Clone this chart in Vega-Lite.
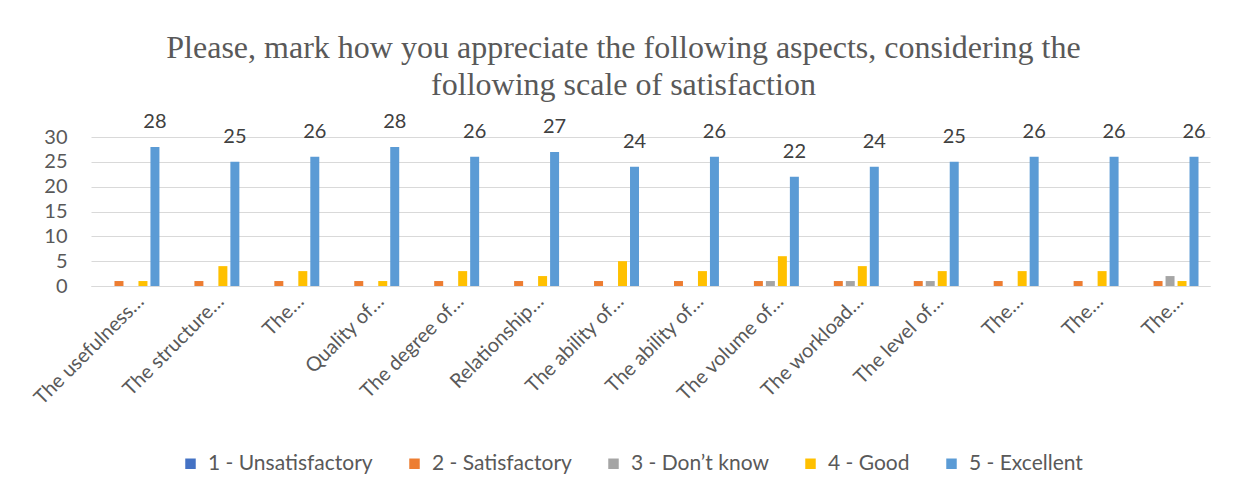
{
  "$schema": "https://vega.github.io/schema/vega-lite/v6.json",
  "width": 1119,
  "height": 149,
  "padding": {"left": 30, "top": 31, "right": 24, "bottom": 20},
  "background": "white",
  "title": {
    "text": ["Please, mark how you appreciate the following aspects, considering the", "following scale of satisfaction"],
    "font": "Liberation Serif",
    "fontSize": 32,
    "fontWeight": "normal",
    "color": "#595959",
    "lineHeight": 37,
    "anchor": "middle",
    "dx": -27,
    "offset": 10
  },
  "config": {
    "view": {"stroke": null},
    "font": "Lato"
  },
  "data": {
    "values": [
      {"aspect": "The usefulness…", "rating": "1 - Unsatisfactory", "count": 0},
      {"aspect": "The usefulness…", "rating": "2 - Satisfactory", "count": 1},
      {"aspect": "The usefulness…", "rating": "3 - Don’t know", "count": 0},
      {"aspect": "The usefulness…", "rating": "4 - Good", "count": 1},
      {"aspect": "The usefulness…", "rating": "5 - Excellent", "count": 28},
      {"aspect": "The structure…", "rating": "1 - Unsatisfactory", "count": 0},
      {"aspect": "The structure…", "rating": "2 - Satisfactory", "count": 1},
      {"aspect": "The structure…", "rating": "3 - Don’t know", "count": 0},
      {"aspect": "The structure…", "rating": "4 - Good", "count": 4},
      {"aspect": "The structure…", "rating": "5 - Excellent", "count": 25},
      {"aspect": "The…#3", "rating": "1 - Unsatisfactory", "count": 0},
      {"aspect": "The…#3", "rating": "2 - Satisfactory", "count": 1},
      {"aspect": "The…#3", "rating": "3 - Don’t know", "count": 0},
      {"aspect": "The…#3", "rating": "4 - Good", "count": 3},
      {"aspect": "The…#3", "rating": "5 - Excellent", "count": 26},
      {"aspect": "Quality of…", "rating": "1 - Unsatisfactory", "count": 0},
      {"aspect": "Quality of…", "rating": "2 - Satisfactory", "count": 1},
      {"aspect": "Quality of…", "rating": "3 - Don’t know", "count": 0},
      {"aspect": "Quality of…", "rating": "4 - Good", "count": 1},
      {"aspect": "Quality of…", "rating": "5 - Excellent", "count": 28},
      {"aspect": "The degree of…", "rating": "1 - Unsatisfactory", "count": 0},
      {"aspect": "The degree of…", "rating": "2 - Satisfactory", "count": 1},
      {"aspect": "The degree of…", "rating": "3 - Don’t know", "count": 0},
      {"aspect": "The degree of…", "rating": "4 - Good", "count": 3},
      {"aspect": "The degree of…", "rating": "5 - Excellent", "count": 26},
      {"aspect": "Relationship…", "rating": "1 - Unsatisfactory", "count": 0},
      {"aspect": "Relationship…", "rating": "2 - Satisfactory", "count": 1},
      {"aspect": "Relationship…", "rating": "3 - Don’t know", "count": 0},
      {"aspect": "Relationship…", "rating": "4 - Good", "count": 2},
      {"aspect": "Relationship…", "rating": "5 - Excellent", "count": 27},
      {"aspect": "The ability of…#7", "rating": "1 - Unsatisfactory", "count": 0},
      {"aspect": "The ability of…#7", "rating": "2 - Satisfactory", "count": 1},
      {"aspect": "The ability of…#7", "rating": "3 - Don’t know", "count": 0},
      {"aspect": "The ability of…#7", "rating": "4 - Good", "count": 5},
      {"aspect": "The ability of…#7", "rating": "5 - Excellent", "count": 24},
      {"aspect": "The ability of…#8", "rating": "1 - Unsatisfactory", "count": 0},
      {"aspect": "The ability of…#8", "rating": "2 - Satisfactory", "count": 1},
      {"aspect": "The ability of…#8", "rating": "3 - Don’t know", "count": 0},
      {"aspect": "The ability of…#8", "rating": "4 - Good", "count": 3},
      {"aspect": "The ability of…#8", "rating": "5 - Excellent", "count": 26},
      {"aspect": "The volume of…", "rating": "1 - Unsatisfactory", "count": 0},
      {"aspect": "The volume of…", "rating": "2 - Satisfactory", "count": 1},
      {"aspect": "The volume of…", "rating": "3 - Don’t know", "count": 1},
      {"aspect": "The volume of…", "rating": "4 - Good", "count": 6},
      {"aspect": "The volume of…", "rating": "5 - Excellent", "count": 22},
      {"aspect": "The workload…", "rating": "1 - Unsatisfactory", "count": 0},
      {"aspect": "The workload…", "rating": "2 - Satisfactory", "count": 1},
      {"aspect": "The workload…", "rating": "3 - Don’t know", "count": 1},
      {"aspect": "The workload…", "rating": "4 - Good", "count": 4},
      {"aspect": "The workload…", "rating": "5 - Excellent", "count": 24},
      {"aspect": "The level of…", "rating": "1 - Unsatisfactory", "count": 0},
      {"aspect": "The level of…", "rating": "2 - Satisfactory", "count": 1},
      {"aspect": "The level of…", "rating": "3 - Don’t know", "count": 1},
      {"aspect": "The level of…", "rating": "4 - Good", "count": 3},
      {"aspect": "The level of…", "rating": "5 - Excellent", "count": 25},
      {"aspect": "The…#12", "rating": "1 - Unsatisfactory", "count": 0},
      {"aspect": "The…#12", "rating": "2 - Satisfactory", "count": 1},
      {"aspect": "The…#12", "rating": "3 - Don’t know", "count": 0},
      {"aspect": "The…#12", "rating": "4 - Good", "count": 3},
      {"aspect": "The…#12", "rating": "5 - Excellent", "count": 26},
      {"aspect": "The…#13", "rating": "1 - Unsatisfactory", "count": 0},
      {"aspect": "The…#13", "rating": "2 - Satisfactory", "count": 1},
      {"aspect": "The…#13", "rating": "3 - Don’t know", "count": 0},
      {"aspect": "The…#13", "rating": "4 - Good", "count": 3},
      {"aspect": "The…#13", "rating": "5 - Excellent", "count": 26},
      {"aspect": "The…#14", "rating": "1 - Unsatisfactory", "count": 0},
      {"aspect": "The…#14", "rating": "2 - Satisfactory", "count": 1},
      {"aspect": "The…#14", "rating": "3 - Don’t know", "count": 2},
      {"aspect": "The…#14", "rating": "4 - Good", "count": 1},
      {"aspect": "The…#14", "rating": "5 - Excellent", "count": 26}
    ]
  },
  "encoding": {
    "x": {
      "field": "aspect",
      "type": "nominal",
      "sort": null,
      "scale": {"paddingInner": 0.2875, "paddingOuter": 0.14375},
      "axis": {
        "title": null,
        "labelAngle": -45,
        "labelAlign": "right",
        "labelBaseline": "middle",
        "labelExpr": "split(datum.value, '#')[0]",
        "labelFontSize": 20,
        "labelColor": "#595959",
        "labelFont": "Lato",
        "labelOffset": 10,
        "labelPadding": 12,
        "ticks": false,
        "tickSize": 0,
        "domainColor": "#d9d9d9",
        "domainWidth": 1,
        "grid": false
      }
    },
    "xOffset": {
      "field": "rating",
      "type": "nominal",
      "scale": {"paddingInner": 0.25, "paddingOuter": 0}
    },
    "y": {
      "field": "count",
      "type": "quantitative",
      "scale": {"domain": [0, 30], "nice": false},
      "axis": {
        "title": null,
        "values": [0, 5, 10, 15, 20, 25, 30],
        "labelFontSize": 20,
        "labelColor": "#595959",
        "labelFont": "Lato",
        "labelPadding": 24,
        "ticks": false,
        "tickSize": 0,
        "domain": false,
        "gridColor": "#d9d9d9",
        "gridWidth": 1
      }
    }
  },
  "layer": [
    {
      "mark": {"type": "bar"},
      "encoding": {
        "color": {
          "field": "rating",
          "type": "nominal",
          "scale": {
            "domain": ["1 - Unsatisfactory", "2 - Satisfactory", "3 - Don’t know", "4 - Good", "5 - Excellent"],
            "range": ["#4472C4", "#ED7D31", "#A5A5A5", "#FFC000", "#5B9BD5"]
          },
          "legend": {
            "title": null,
            "orient": "none",
            "direction": "horizontal",
            "legendX": 89,
            "legendY": 316,
            "symbolType": "square",
            "symbolSize": 110,
            "symbolStrokeWidth": 0,
            "labelFontSize": 21,
            "labelFont": "Lato",
            "labelColor": "#595959",
            "labelOffset": 7,
            "labelLimit": 0,
            "columnPadding": 31,
            "padding": 0
          }
        }
      }
    },
    {
      "transform": [{"filter": "datum.rating == '5 - Excellent'"}],
      "mark": {"type": "text", "baseline": "middle", "dy": -25, "fontSize": 20, "font": "Lato", "color": "#404040"},
      "encoding": {
        "text": {"field": "count", "type": "quantitative"}
      }
    }
  ]
}
